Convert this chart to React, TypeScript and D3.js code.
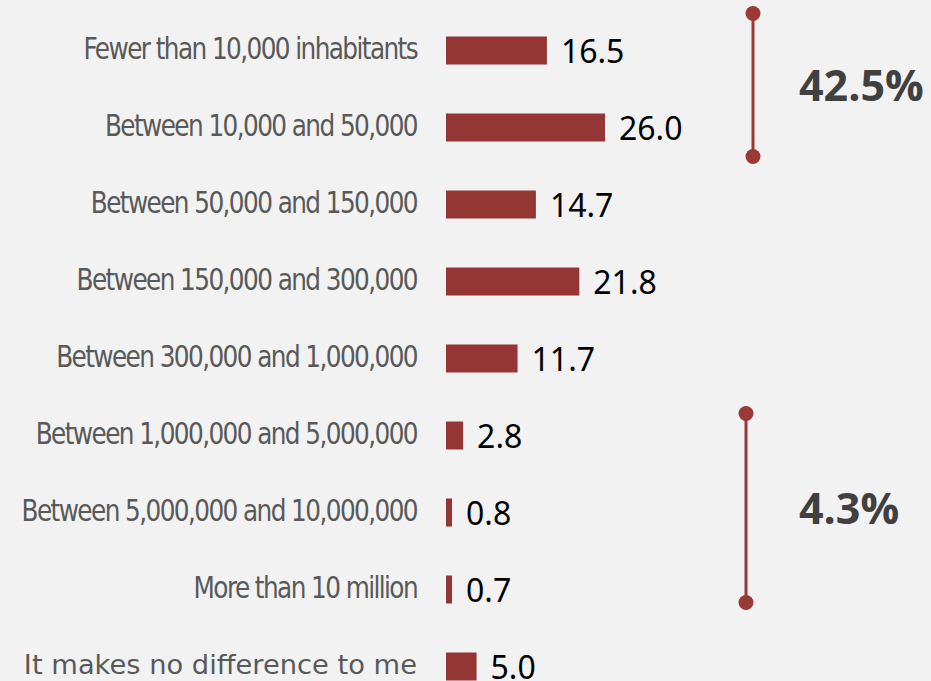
import React, { useEffect } from "react";
import * as d3 from "d3";

const categories: string[] = [
  "Fewer than 10,000 inhabitants",
  "Between 10,000 and 50,000",
  "Between 50,000 and 150,000",
  "Between 150,000 and 300,000",
  "Between 300,000 and 1,000,000",
  "Between 1,000,000 and 5,000,000",
  "Between 5,000,000 and 10,000,000",
  "More than 10 million",
  "It makes no difference to me",
];
const values: number[] = [16.5, 26.0, 14.7, 21.8, 11.7, 2.8, 0.8, 0.7, 5.0];
const groupFrom: number[] = [0, 5];
const groupTo: number[] = [1, 7];
const groupLabels: string[] = ["42.5%", "4.3%"];

const W = 931;
const H = 681;
const BAR = "#943634";
const DOT = "#9a3935";

export default function App() {
  useEffect(() => {
    document.body.style.margin = "0";
  }, []);

  const x = d3.scaleLinear().domain([0, 26]).range([446, 605]);
  const y = d3.scalePoint<string>().domain(categories).range([50.5, 666.5]);
  const barH = 28;

  const bracketX = [753, 746];
  const bracketExt = [[37, 29], [22, 13]];

  return (
    <svg width={W} height={H} style={{ position: "absolute", left: 0, top: 0, background: "#f2f2f2" }}>
      <rect x={0} y={0} width={W} height={H} fill="#f2f2f2" />
      {categories.map((c, i) => {
        const cy = y(c)!;
        const w = Math.max(6, x(values[i]) - x(0));
        const last = i === categories.length - 1;
        return (
          <g key={c}>
            {last ? (
              <text
                x={417}
                y={cy + 7}
                textAnchor="end"
                fontFamily="DejaVu Sans, Verdana, sans-serif"
                fontSize={27.3}
                fill="#595959"
              >
                {c}
              </text>
            ) : (
              <g transform={`translate(417,${cy + 8}) scale(0.84,1)`}>
                <text
                  x={0}
                  y={0}
                  textAnchor="end"
                  fontFamily="DejaVu Sans, Verdana, sans-serif"
                  fontSize={29.5}
                  letterSpacing={-1.9}
                  fill="#595959"
                >
                  {c}
                </text>
              </g>
            )}
            <rect x={x(0)} y={cy - barH / 2} width={w} height={barH} fill={BAR} />
            <text
              x={x(0) + w + 14}
              y={cy + 12}
              fontFamily="Noto Sans, sans-serif"
              fontSize={32}
              fill="#000"
            >
              {values[i].toFixed(1)}
            </text>
          </g>
        );
      })}
      {groupLabels.map((g, i) => {
        const top = y(categories[groupFrom[i]])! - bracketExt[i][0];
        const bot = y(categories[groupTo[i]])! + bracketExt[i][1];
        const bx = bracketX[i];
        const mid = (top + bot) / 2;
        return (
          <g key={g}>
            <line x1={bx} x2={bx} y1={top} y2={bot} stroke={DOT} strokeWidth={3} />
            <circle cx={bx} cy={top} r={7.5} fill={DOT} />
            <circle cx={bx} cy={bot} r={7.5} fill={DOT} />
            <text
              x={799}
              y={mid + 16}
              fontFamily="Open Sans, sans-serif"
              fontWeight={700}
              fontSize={43}
              fill="#404040"
            >
              {g}
            </text>
          </g>
        );
      })}
    </svg>
  );
}
